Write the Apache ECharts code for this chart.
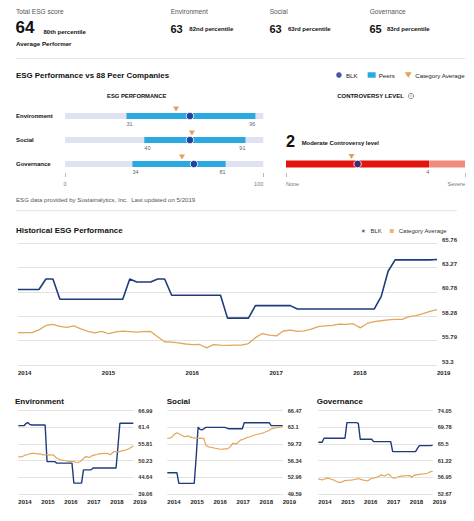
<!DOCTYPE html>
<html><head><meta charset="utf-8">
<script src="https://cdn.jsdelivr.net/npm/echarts@6/dist/echarts.min.js"></script>
<style>html,body{margin:0;padding:0;background:#fff}#c{width:474px;height:521px}</style>
</head><body><div id="c"></div>
<script>
const FONT = '"Liberation Sans", Arial, Helvetica, sans-serif';

// ---------- ESG performance vs peers ----------
const esgCategories = ['Environment', 'Social', 'Governance'];
const blkScores = [63, 63, 65];
const peerLow = [31, 40, 34];
const peerHigh = [96, 91, 81];
const categoryAvg = [56, 64, 59];

// ---------- Controversy ----------
const controversyLevel = 2;
const controversyPeerMax = 4;
const controversyScaleMax = 5;
const controversyAvg = 1.83;
const controversyEnds = ['None', 'Severe'];

// ---------- Historical (monthly, Jan 2014 .. Jan 2019) ----------
const years = [2014, 2015, 2016, 2017, 2018, 2019];
const mainTicks = ['53.3', '55.79', '58.28', '60.78', '63.27', '65.76'];
const envTicks = ['39.06', '44.64', '50.23', '55.81', '61.4', '66.99'];
const socTicks = ['49.59', '52.96', '56.34', '59.72', '63.1', '66.47'];
const govTicks = ['52.67', '56.95', '61.22', '65.5', '69.78', '74.05'];

const mainBLK = [61.03,61.03,61.03,61.03,62.1,62.1,60.03,60.03,60.03,60.03,60.03,60.03,60.03,60.03,60.03,60.03,
  62.1,61.8,61.8,61.8,62.1,62.1,60.44,60.44,60.44,60.44,60.44,60.44,60.44,60.44,58.1,58.1,58.1,58.1,
  59.38,59.38,59.38,59.38,59.38,59.38,59.03,59.03,59.03,59.03,59.03,59.03,59.03,59.03,59.03,59.03,59.03,59.03,
  60.3,62.9,64.06,64.06,64.06,64.06,64.06,64.06,64.1];
const mainAvg = [56.61,56.61,56.62,56.9,57.35,57.45,57.25,57.15,57.3,57.0,
  56.75,56.6,56.75,56.5,56.7,56.77,56.72,56.67,56.72,56.74,
  56.2,55.68,55.64,55.57,55.45,55.38,55.4,55.05,55.38,55.34,
  55.31,55.33,55.33,55.5,56.1,56.52,56.35,56.28,56.78,56.88,
  56.74,56.8,56.98,57.22,57.3,57.35,57.48,57.46,57.53,57.1,
  57.55,57.75,57.83,57.93,57.97,57.97,58.25,58.36,58.55,58.8,58.96];

const envBLK = [61.97,61.97,61.97,61.97,62.7,63.0,62.4,62.2,62.2,62.2,62.2,62.2,62.2,62.2,62.2,
  49.93,49.93,49.93,49.93,49.93,49.4,49.4,49.4,49.4,49.4,49.4,49.4,49.4,49.4,
  42.7,42.7,42.7,42.7,42.7,47.15,47.15,47.15,47.15,47.15,
  47.8,47.8,47.8,47.8,47.8,47.8,47.8,47.8,47.8,47.8,47.8,47.8,47.8,
  55.0,62.77,62.77,62.77,62.77,62.77,62.77,62.77,62.77];
const envAvg = [51.6,51.5,51.6,51.9,52.2,52.3,52.5,52.7,52.7,52.6,
  52.5,52.5,52.4,52.2,52.2,52.3,52.1,52.2,52.2,51.7,
  51.1,50.8,50.5,50.4,50.3,50.2,50.1,50.0,50.0,49.9,
  49.7,49.6,49.9,50.3,50.9,51.6,51.5,51.3,51.7,52.0,
  52.2,52.3,52.5,52.6,52.6,52.7,52.7,52.5,52.2,52.8,
  53.3,53.3,53.3,53.3,53.5,53.7,53.8,54.0,54.3,54.75,55.2];

const socBLK = [53.9,53.9,53.9,53.9,53.9,53.9,51.75,51.75,51.75,51.75,51.75,51.75,51.75,51.75,51.75,
  57.0,63.1,62.7,62.6,62.8,63.1,63.1,63.1,63.1,63.1,63.1,63.1,63.1,63.1,63.1,63.1,
  62.95,62.8,62.8,62.8,62.8,62.8,62.8,62.8,62.8,
  64.04,64.04,64.04,64.04,64.04,64.04,64.04,64.04,64.04,64.04,64.04,64.04,64.04,64.04,
  63.44,63.44,63.44,63.44,63.44,63.44,63.44];
const socAvg = [60.88,60.9,61.0,61.4,61.8,62.0,61.8,61.6,61.4,61.2,
  61.3,61.35,61.1,61.0,60.95,60.9,60.88,60.9,60.88,60.88,
  59.5,59.2,59.1,59.06,58.95,58.86,58.8,58.7,58.66,58.7,
  58.72,58.72,58.9,59.3,59.86,59.8,59.73,60.1,60.5,60.6,
  60.8,60.95,61.08,61.2,61.35,61.5,61.6,61.7,61.8,61.89,
  62.0,62.15,62.3,62.5,62.77,62.9,63.0,63.04,63.1,63.2,63.24];

const govBLK = [65.94,65.94,65.94,66.97,66.97,66.97,66.97,66.97,66.97,66.97,66.97,66.97,66.97,66.97,66.97,
  70.98,70.98,70.98,70.98,70.98,70.98,70.8,
  66.71,66.71,66.71,66.71,66.71,66.71,66.71,
  66.11,66.11,66.11,66.11,66.11,66.11,66.11,66.11,66.11,66.11,
  63.55,63.55,63.55,63.55,63.55,63.55,63.55,63.55,63.55,63.55,63.55,63.55,63.55,
  64.4,65.09,65.09,65.09,65.09,65.09,65.09,65.09,65.2];
const govAvg = [56.47,56.4,56.3,56.45,56.6,56.73,56.6,56.4,56.3,56.0,
  55.8,55.6,55.7,55.9,56.1,56.15,56.2,56.25,56.3,56.4,
  56.5,56.64,56.5,56.3,56.2,56.1,56.05,56.4,56.7,56.75,
  56.9,57.0,57.3,57.58,57.4,57.33,57.6,57.75,57.2,56.8,
  56.73,56.9,57.1,57.2,57.3,57.33,57.35,57.4,57.41,56.98,
  57.4,57.58,57.65,57.7,57.75,57.8,57.9,58.0,58.2,58.4,58.45];

// month categories built from the years list
const months = [];
years.forEach((y, k) => {
  const n = k === years.length - 1 ? 1 : 12;
  for (let m = 1; m <= n; m++) months.push(y + '-' + String(m).padStart(2, '0'));
});

// ---------- styles ----------
const NAVY = '#1e3b7c', ORANGE = '#e2a65a', DOT = '#1b2d8f', TRI = '#d88a2c', PEER = '#2aa8e0';
const TRI_PATH = 'path://M0,0 L10,0 L5,8 Z';

function txt(text, x, y, size, weight, color, align) {
  return { type: 'text', x: x, y: y, silent: true,
    style: { text: text, fill: color || '#111', fontSize: size, fontWeight: weight || 'normal',
      fontFamily: FONT, align: align || 'left', verticalAlign: 'middle',
      textAlign: align || 'left', textVerticalAlign: 'middle' } };
}
function hline(x1, x2, y) {
  return { type: 'line', silent: true, shape: { x1: x1, y1: y, x2: x2, y2: y },
    style: { stroke: '#e4e4e4', lineWidth: 1 } };
}

function timeX(grid) {
  return { gridIndex: grid, type: 'category', data: months, boundaryGap: false,
    axisLine: { show: false }, axisTick: { show: false },
    axisLabel: { interval: (i) => i % 12 === 0, formatter: (v) => v.slice(0, 4), align: 'left',
      fontSize: 6, fontWeight: 'bold', color: '#222', fontFamily: FONT, margin: 5 } };
}
function valY(grid, ticks, main) {
  const mn = parseFloat(ticks[0]), mx = parseFloat(ticks[ticks.length - 1]);
  const iv = +((mx - mn) / (ticks.length - 1)).toFixed(4);
  return { gridIndex: grid, type: 'value', position: 'right', min: mn, max: mx, interval: iv,
    axisLine: { show: false }, axisTick: { show: false },
    splitLine: { lineStyle: { color: '#e2e2e2', width: 1 } },
    axisLabel: { margin: 5, fontSize: main ? 6 : 5.6, fontWeight: 'bold', color: '#333', fontFamily: FONT,
      verticalAlign: main ? 'bottom' : 'middle', lineHeight: 7,
      formatter: (v) => {
        let best = ticks[0], d = Infinity;
        ticks.forEach(t => { const dd = Math.abs(parseFloat(t) - v); if (dd < d) { d = dd; best = t; } });
        return best;
      } } };
}
function lineS(name, grid, data, color, w) {
  return { type: 'line', name: name, xAxisIndex: grid, yAxisIndex: grid, data: data,
    symbol: 'none', showSymbol: false, silent: true,
    lineStyle: { color: color, width: w }, itemStyle: { color: color } };
}
function valLabelSeries(data, align, xIdx, yIdx) {
  return { type: 'scatter', xAxisIndex: xIdx, yAxisIndex: yIdx, data: data, symbolSize: 1, silent: true,
    itemStyle: { color: 'transparent' }, z: 7,
    label: { show: true, position: 'bottom', distance: 4.5, align: align,
      formatter: (p) => String(p.value[0]), fontSize: 5.5, color: '#333', fontFamily: FONT } };
}

const chart = echarts.init(document.getElementById('c'), null, { renderer: 'svg' });
chart.setOption({
  animation: false,
  backgroundColor: '#fff',
  textStyle: { fontFamily: FONT },
  graphic: { elements: [
    txt('Total ESG score', 16, 11, 6.6, 'normal', '#555'),
    txt('64', 15.5, 27.5, 17, 'bold', '#111'),
    txt('80th percentile', 43.5, 32.3, 6, 'bold', '#111'),
    txt('Average Performer', 16, 43.5, 6.2, 'bold', '#111'),
    txt('Environment', 170.7, 11, 6.6, 'normal', '#555'),
    txt('63', 170.5, 28.6, 11, 'bold', '#111'),
    txt('82nd percentile', 189.3, 29, 6, 'bold', '#111'),
    txt('Social', 269.7, 11, 6.6, 'normal', '#555'),
    txt('63', 269.5, 28.6, 11, 'bold', '#111'),
    txt('63rd percentile', 288, 29, 6, 'bold', '#111'),
    txt('Governance', 369.7, 11, 6.6, 'normal', '#555'),
    txt('65', 369.5, 28.6, 11, 'bold', '#111'),
    txt('83rd percentile', 387, 29, 6, 'bold', '#111'),
    hline(16, 465, 58.5),
    txt('ESG Performance vs 88 Peer Companies', 16, 75, 7.9, 'bold', '#111'),
    txt('ESG PERFORMANCE', 136.7, 96, 5.8, 'bold', '#111', 'center'),
    txt('CONTROVERSY LEVEL', 337.3, 96, 5.95, 'bold', '#111'),
    { type: 'circle', silent: true, shape: { cx: 411, cy: 96, r: 2.6 }, style: { stroke: '#666', fill: 'none', lineWidth: 0.7 } },
    txt('i', 411, 96.2, 3.6, 'bold', '#666', 'center'),
    txt(String(controversyLevel), 286, 141, 16.3, 'bold', '#111'),
    txt('Moderate Controversy level', 301.7, 142.7, 5.9, 'bold', '#111'),
    txt('ESG data provided by Sustainalytics, Inc.  Last updated on 5/2019', 16, 199, 6.1, 'normal', '#555'),
    hline(16, 457, 210.7),
    txt('Historical ESG Performance', 16, 230, 8, 'bold', '#111'),
    txt('Environment', 15, 401.7, 8, 'bold', '#111'),
    txt('Social', 166.7, 401.7, 8, 'bold', '#111'),
    txt('Governance', 316.7, 401.7, 8, 'bold', '#111')
  ] },
  legend: [
    { data: [
        { name: 'BLK', icon: 'circle', itemStyle: { color: DOT, borderWidth: 0 } },
        { name: 'Peers', icon: 'rect', itemStyle: { color: PEER } },
        { name: 'Category Average', icon: TRI_PATH, itemStyle: { color: TRI } } ],
      right: 9, top: 72, itemWidth: 8, itemHeight: 5.5, itemGap: 10, padding: 0, selectedMode: false,
      textStyle: { fontSize: 6.2, color: '#222', fontFamily: FONT, padding: [0, 0, 0, -2] } },
    { data: [
        { name: 'BLK', icon: 'rect', itemStyle: { color: NAVY } },
        { name: 'Category Average', icon: 'rect', itemStyle: { color: ORANGE } } ],
      right: 27, top: 228, itemWidth: 4, itemHeight: 4, itemGap: 8, padding: 0, selectedMode: false,
      textStyle: { fontSize: 6, color: '#333', fontFamily: FONT } }
  ],
  grid: [
    { left: 65, right: 210.7, top: 104, height: 72 },
    { left: 286, right: 9, top: 152, height: 24 },
    { left: 18, right: 37, top: 243.3, height: 121.7 },
    { left: 18.3, right: 340.7, top: 410.7, height: 83.3 },
    { left: 167.3, right: 191.3, top: 410.7, height: 83.3 },
    { left: 318.3, right: 41.3, top: 410.7, height: 83.3 }
  ],
  xAxis: [
    { gridIndex: 0, type: 'value', min: 0, max: 100, interval: 100, offset: -3,
      axisLine: { show: false }, splitLine: { show: false },
      axisTick: { show: true, length: 4, lineStyle: { color: '#999', width: 0.7 } },
      axisLabel: { fontSize: 5.5, color: '#777', fontFamily: FONT, margin: 8, alignMaxLabel: 'right' } },
    { gridIndex: 1, type: 'value', min: 0, max: controversyScaleMax, interval: controversyScaleMax, offset: -3,
      axisLine: { show: false }, splitLine: { show: false },
      axisTick: { show: true, length: 4, lineStyle: { color: '#999', width: 0.7 } },
      axisLabel: { fontSize: 5.5, color: '#777', fontFamily: FONT, margin: 8,
        alignMinLabel: 'left', alignMaxLabel: 'right',
        formatter: (v) => v === 0 ? controversyEnds[0] : controversyEnds[1] } },
    timeX(2), timeX(3), timeX(4), timeX(5)
  ],
  yAxis: [
    { gridIndex: 0, type: 'category', data: esgCategories, inverse: true,
      axisLine: { show: false }, axisTick: { show: false }, splitLine: { show: false },
      axisLabel: { align: 'left', margin: 49, fontSize: 6, fontWeight: 'bold', color: '#111', fontFamily: FONT } },
    { gridIndex: 1, type: 'category', data: ['Controversy'], show: false },
    valY(2, mainTicks, true), valY(3, envTicks, false), valY(4, socTicks, false), valY(5, govTicks, false)
  ],
  series: [
    // ESG performance rows
    { type: 'bar', name: 'range', xAxisIndex: 0, yAxisIndex: 0, data: esgCategories.map(() => 100),
      barWidth: 6, barGap: '-100%', silent: true, itemStyle: { color: '#dfe2f2' }, z: 1 },
    { type: 'bar', name: 'peerBase', stack: 'peer', xAxisIndex: 0, yAxisIndex: 0, data: peerLow,
      barWidth: 6, barGap: '-100%', silent: true, itemStyle: { color: 'transparent' }, z: 2 },
    { type: 'bar', name: 'Peers', stack: 'peer', xAxisIndex: 0, yAxisIndex: 0,
      data: peerHigh.map((h, i) => h - peerLow[i]),
      barWidth: 6, barGap: '-100%', silent: true, itemStyle: { color: PEER }, z: 2 },
    { type: 'scatter', name: 'Category Average', xAxisIndex: 0, yAxisIndex: 0,
      data: categoryAvg.map((v, i) => [v, i]), symbol: TRI_PATH, symbolSize: [6, 5], symbolOffset: [0, -7],
      itemStyle: { color: TRI }, silent: true, z: 5 },
    { type: 'scatter', name: 'BLK', xAxisIndex: 0, yAxisIndex: 0,
      data: blkScores.map((v, i) => [v, i]), symbolSize: 7.5,
      itemStyle: { color: DOT, borderColor: '#fff', borderWidth: 1 }, silent: true, z: 6 },
    valLabelSeries(peerLow.map((v, i) => [v, i]), 'left', 0, 0),
    valLabelSeries(peerHigh.map((v, i) => [v, i]), 'right', 0, 0),
    // Controversy
    { type: 'bar', name: 'contA', stack: 'c', xAxisIndex: 1, yAxisIndex: 1, data: [controversyPeerMax],
      barWidth: 7, silent: true, itemStyle: { color: '#e3140d' } },
    { type: 'bar', name: 'contB', stack: 'c', xAxisIndex: 1, yAxisIndex: 1,
      data: [controversyScaleMax - controversyPeerMax],
      barWidth: 7, silent: true, itemStyle: { color: '#f08a7c' } },
    { type: 'scatter', name: 'Category Average', xAxisIndex: 1, yAxisIndex: 1, data: [[controversyAvg, 0]],
      symbol: TRI_PATH, symbolSize: [6, 5], symbolOffset: [0, -7.5], itemStyle: { color: TRI }, silent: true, z: 5 },
    { type: 'scatter', name: 'BLK', xAxisIndex: 1, yAxisIndex: 1, data: [[controversyLevel, 0]],
      symbolSize: 7.5, itemStyle: { color: DOT, borderColor: '#fff', borderWidth: 1 }, silent: true, z: 6 },
    valLabelSeries([[controversyPeerMax, 0]], 'right', 1, 1),
    // Historical lines
    lineS('BLK', 2, mainBLK, NAVY, 1.6),
    lineS('Category Average', 2, mainAvg, ORANGE, 1.3),
    lineS('BLK', 3, envBLK, NAVY, 1.4),
    lineS('Category Average', 3, envAvg, ORANGE, 1.2),
    lineS('BLK', 4, socBLK, NAVY, 1.4),
    lineS('Category Average', 4, socAvg, ORANGE, 1.2),
    lineS('BLK', 5, govBLK, NAVY, 1.4),
    lineS('Category Average', 5, govAvg, ORANGE, 1.2)
  ]
});
</script></body></html>
